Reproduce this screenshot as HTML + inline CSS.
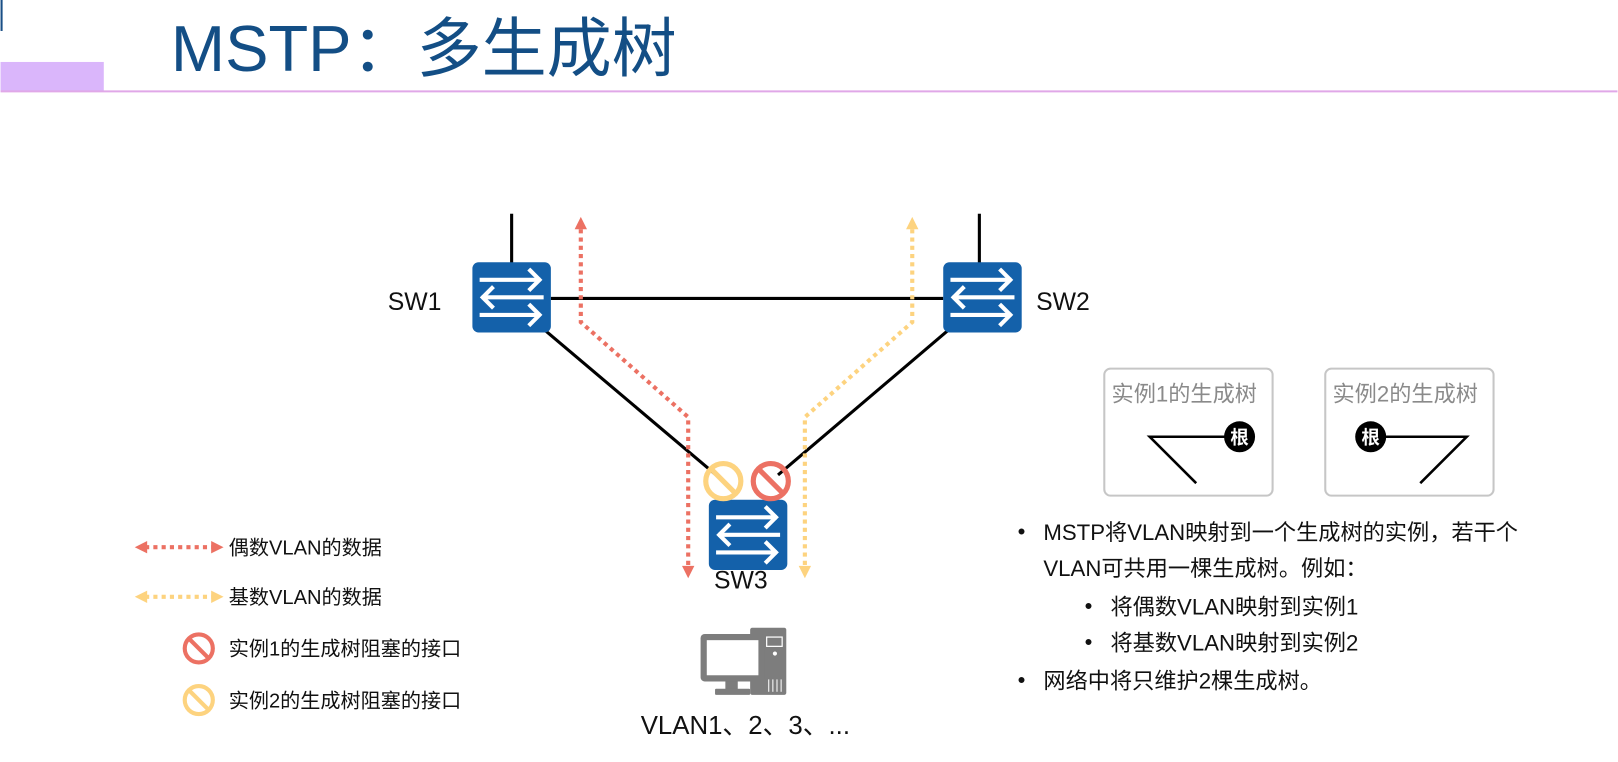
<!DOCTYPE html>
<html><head><meta charset="utf-8"><style>
html,body{margin:0;padding:0;background:#fff;}
svg{display:block;}
text{font-family:"Liberation Sans","Noto Sans CJK SC",sans-serif;}
</style></head><body>
<svg width="1618" height="762" viewBox="0 0 1566 738" xmlns="http://www.w3.org/2000/svg">
<defs>
<g id="sw">
<rect x="0" y="0" width="76" height="68" rx="6" fill="#1461aa"/>
<g stroke="#fff" stroke-width="4" fill="none" stroke-linecap="square">
<line x1="9" y1="17" x2="64" y2="17"/><polyline points="56,8 65,17 56,26"/>
<line x1="11" y1="34" x2="67" y2="34"/><polyline points="19,25 10,34 19,43"/>
<line x1="9" y1="51" x2="64" y2="51"/><polyline points="56,42 65,51 56,60"/>
</g></g>
<g id="noR"><circle r="17" fill="none" stroke="#ec7163" stroke-width="5"/><line x1="-12" y1="-12" x2="12" y2="12" stroke="#ec7163" stroke-width="5"/></g>
<g id="noY"><circle r="17" fill="none" stroke="#fdd37f" stroke-width="5"/><line x1="-12" y1="-12" x2="12" y2="12" stroke="#fdd37f" stroke-width="5"/></g>
</defs>
<line x1="1" y1="0" x2="1" y2="30" stroke="#1a4f86" stroke-width="2"/>
<rect x="0" y="60" width="100" height="28" fill="#dab6fb"/>
<line x1="0" y1="88.5" x2="1566" y2="88.5" stroke="#e0a8e8" stroke-width="2"/>
<text x="165" y="69" font-size="63" fill="#134e85">MSTP：多生成树</text>

<g stroke="#000" stroke-width="3">
<line x1="495" y1="207" x2="495" y2="256"/>
<line x1="948" y1="207" x2="948" y2="256"/>
<line x1="533" y1="289" x2="913" y2="289"/>
<line x1="525" y1="318" x2="693" y2="460"/>
<line x1="920" y1="318" x2="753" y2="460"/>
</g>
<use href="#sw" x="457" y="254"/>
<use href="#sw" x="913" y="254"/>
<use href="#sw" x="686" y="484"/>

<g fill="none" stroke-width="4" stroke-dasharray="4 4">
<polyline points="562,222 562,312 666,404 666,548" stroke="#ec7163"/>
<polyline points="883,222 883,312 779,404 779,548" stroke="#fdd37f"/>
</g>
<polygon points="556,222 568,222 562,210" fill="#ec7163"/>
<polygon points="660,548 672,548 666,560" fill="#ec7163"/>
<polygon points="877,222 889,222 883,210" fill="#fdd37f"/>
<polygon points="773,548 785,548 779,560" fill="#fdd37f"/>
<use href="#noY" x="700" y="466"/>
<use href="#noR" x="746" y="466"/>

<g font-size="24" fill="#111">
<text x="375" y="300">SW1</text>
<text x="1003" y="300">SW2</text>
<text x="691" y="570">SW3</text>
<text x="620" y="711" font-size="25">VLAN1、2、3、...</text>
</g>

<!-- PC -->
<g fill="#7d7d7d">
<rect x="726" y="608" width="35" height="65" rx="2"/>
<rect x="678" y="614" width="62" height="46" rx="4"/>
<rect x="702" y="660" width="12" height="8"/>
<rect x="692" y="667" width="34" height="6" rx="1"/>
</g>
<rect x="684" y="620" width="50" height="34" fill="#fff"/>
<rect x="742" y="617" width="15" height="9" fill="none" stroke="#fff" stroke-width="1.2"/>
<circle cx="750" cy="633" r="2" fill="#fff"/>
<g stroke="#fff" stroke-width="1"><line x1="744" y1="658" x2="744" y2="670"/><line x1="748" y1="658" x2="748" y2="670"/><line x1="752" y1="658" x2="752" y2="670"/><line x1="756" y1="658" x2="756" y2="670"/></g>

<!-- legend -->
<g stroke-width="4" stroke-dasharray="4 4">
<line x1="140" y1="530" x2="205" y2="530" stroke="#ec7163"/>
<line x1="140" y1="578" x2="205" y2="578" stroke="#fdd37f"/>
</g>
<polygon points="130,530 142,524 142,536" fill="#ec7163"/>
<polygon points="216,530 204,524 204,536" fill="#ec7163"/>
<polygon points="130,578 142,572 142,584" fill="#fdd37f"/>
<polygon points="216,578 204,572 204,584" fill="#fdd37f"/>
<g transform="translate(192,628) scale(0.8)"><use href="#noR"/></g>
<g transform="translate(192,678) scale(0.8)"><use href="#noY"/></g>
<g font-size="19.5" fill="#111">
<text x="221" y="537">偶数VLAN的数据</text>
<text x="221" y="585">基数VLAN的数据</text>
<text x="221" y="635">实例1的生成树阻塞的接口</text>
<text x="221" y="685">实例2的生成树阻塞的接口</text>
</g>

<!-- tree boxes -->
<rect x="1069" y="357" width="163" height="123" rx="6" fill="none" stroke="#c6c6c6" stroke-width="2"/>
<rect x="1283" y="357" width="163" height="123" rx="6" fill="none" stroke="#c6c6c6" stroke-width="2"/>
<g font-size="21.5" fill="#8a8a8a">
<text x="1076" y="389">实例1的生成树</text>
<text x="1290" y="389">实例2的生成树</text>
</g>
<g stroke="#000" stroke-width="2.5" fill="none">
<polyline points="1188,423 1113,423 1158,468"/>
<polyline points="1340,423 1420,423 1375,468"/>
</g>
<circle cx="1200" cy="423" r="15" fill="#000"/>
<circle cx="1327" cy="423" r="15" fill="#000"/>
<g font-size="18" fill="#fff" font-weight="bold" text-anchor="middle">
<text x="1200" y="430">根</text>
<text x="1327" y="430">根</text>
</g>

<g font-size="21.5" fill="#111">
<text x="985" y="522">•</text>
<text x="1010" y="523">MSTP将VLAN映射到一个生成树的实例，若干个</text>
<text x="1010" y="558">VLAN可共用一棵生成树。例如：</text>
<text x="1050" y="594">•</text>
<text x="1075" y="595">将偶数VLAN映射到实例1</text>
<text x="1050" y="629">•</text>
<text x="1075" y="630">将基数VLAN映射到实例2</text>
<text x="985" y="666">•</text>
<text x="1010" y="667">网络中将只维护2棵生成树。</text>
</g>
</svg>
</body></html>
